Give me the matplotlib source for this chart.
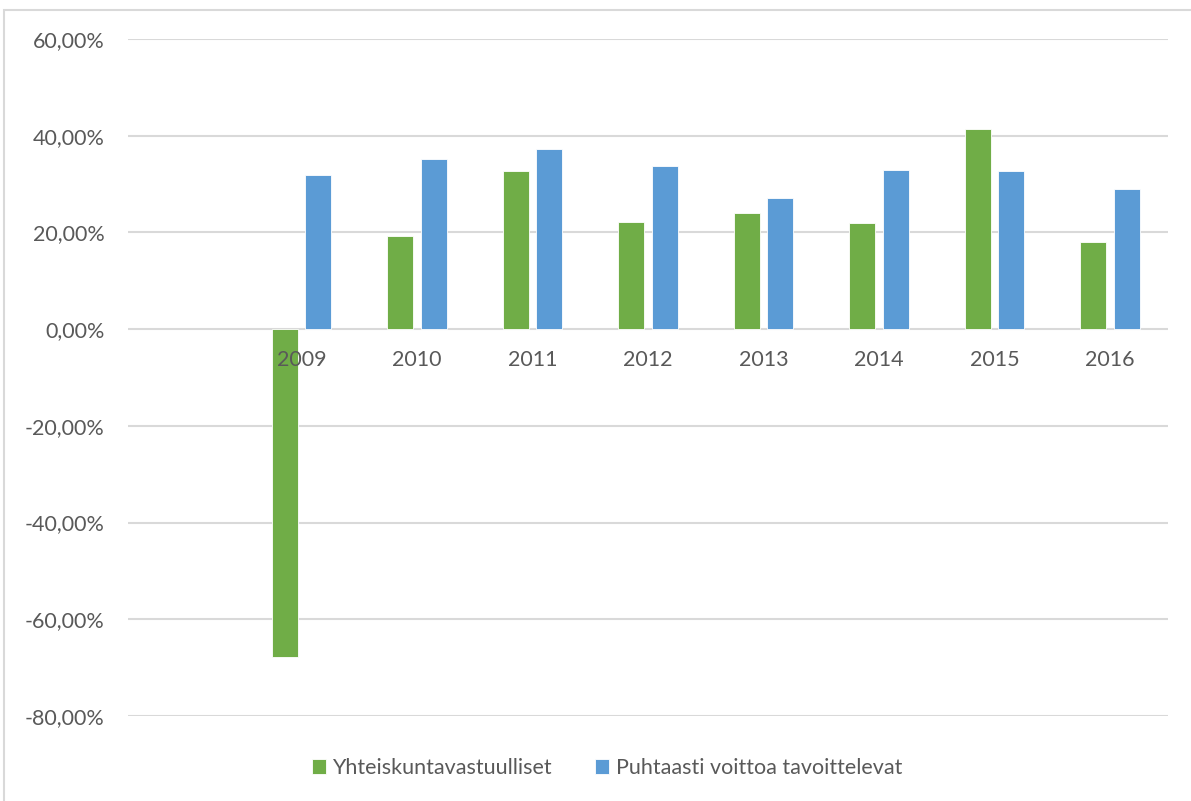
import matplotlib.pyplot as plt
import matplotlib.transforms as mtransforms
from matplotlib.patches import Rectangle
import numpy as np

plt.rcParams["font.family"] = ["Lato", "DejaVu Sans"]

# first category is empty in the original
years = ["", "2009", "2010", "2011", "2012", "2013", "2014", "2015", "2016"]
yhteis = [np.nan, -0.678, 0.192, 0.326, 0.222, 0.241, 0.220, 0.413, 0.181]
puhtaasti = [np.nan, 0.318, 0.351, 0.372, 0.338, 0.272, 0.329, 0.326, 0.289]
yticks = [-0.8, -0.6, -0.4, -0.2, 0.0, 0.2, 0.4, 0.6]

green = "#70AD47"
blue = "#5B9BD5"
grid_c = "#D9D9D9"
text_c = "#595959"
fs = 15.5

fig = plt.figure(figsize=(11.91, 8.01), dpi=100)
ax = fig.add_axes([128.25/1191, 1 - 716/801, 1039.5/1191, 677/801])

x = np.arange(len(years))
w = 0.225
ax.bar(x - 0.143, yhteis, w, color=green, edgecolor="white", linewidth=0.6,
       label="Yhteiskuntavastuulliset", zorder=3)
ax.bar(x + 0.143, puhtaasti, w, color=blue, edgecolor="white", linewidth=0.6,
       label="Puhtaasti voittoa tavoittelevat", zorder=3)

ax.set_xlim(-0.5, len(years) - 0.5)
ax.set_ylim(-0.8, 0.6)
ax.set_yticks(yticks)
ax.set_yticklabels(["{:.2f}%".format(v * 100).replace(".", ",") for v in yticks])
ax.yaxis.grid(True, color=grid_c, linewidth=1.5, zorder=0)
ax.set_axisbelow(True)

ax.set_xticks([])
for s in ["top", "right", "left", "bottom"]:
    ax.spines[s].set_visible(False)
ax.tick_params(axis="y", length=0, pad=17, labelsize=fs, labelcolor=text_c)

# category labels sit just under the zero line, drawn over the bars
offset = mtransforms.offset_copy(ax.transData, fig=fig, x=0, y=-31 * 0.72, units="points")
for xi, yr in zip(x, years):
    ax.text(xi, 0, yr, transform=offset, ha="center", va="center",
            fontsize=fs, color=text_c, zorder=5)

leg = fig.legend(loc="center", bbox_to_anchor=(607/1191, 1 - 768/801), ncol=2,
                 frameon=False, fontsize=fs, labelcolor=text_c,
                 handlelength=0.65, handleheight=0.65, handletextpad=0.3,
                 columnspacing=2.0)

# chart border
fig.patches.append(Rectangle((4/1191, -0.1), 1.2, 1 - 10/801 + 0.1,
                             transform=fig.transFigure, fill=False,
                             edgecolor=grid_c, linewidth=1.5))

fig.savefig("out.png", dpi=100)
